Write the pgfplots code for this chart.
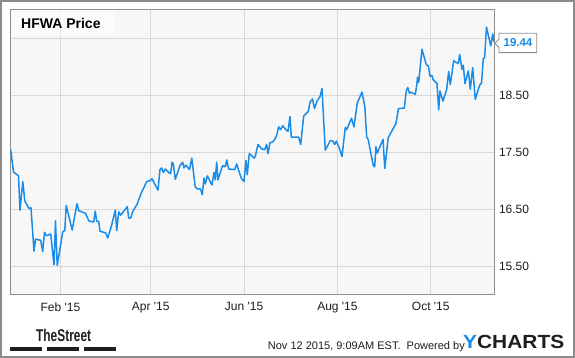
\documentclass[border=0pt]{standalone}
\usepackage{pgfplots}
\pgfplotsset{compat=1.18}
\usepackage{fontspec}
\setmainfont{Liberation Sans}
\usepackage{graphicx}
\definecolor{yblue}{RGB}{26,140,232}
\definecolor{gridc}{RGB}{216,216,216}
\definecolor{framec}{RGB}{140,140,140}
\definecolor{bgc}{RGB}{247,247,247}
\definecolor{txt}{RGB}{30,30,30}

\pgfplotstableread{
d v
-1.55 17.55
0.28 17.16
3.55 17.09
4.53 16.49
6.36 16.99
7.67 16.65
10.41 16.52
11.72 16.53
13.68 15.77
14.66 15.98
18.06 15.96
19.37 15.76
20.54 16.10
21.85 16.04
24.60 16.07
26.75 15.53
27.73 16.30
28.85 15.52
32.51 16.11
33.81 16.13
34.73 16.57
38.65 16.14
41.79 16.60
42.96 16.48
47.47 16.43
49.50 16.30
52.70 16.28
53.75 16.47
54.66 16.29
55.97 16.29
56.82 16.12
60.54 16.09
61.85 16.00
64.20 16.20
66.82 16.49
67.73 16.13
69.04 16.46
70.35 16.40
74.66 16.55
75.58 16.35
76.88 16.35
78.19 16.46
81.20 16.60
83.81 16.79
87.34 16.99
89.96 17.01
90.81 17.04
94.73 16.84
96.03 17.20
97.15 17.23
98.19 17.15
99.50 17.21
102.11 17.14
103.03 17.13
103.88 17.33
104.73 17.30
106.04 17.03
109.11 17.27
110.87 17.33
111.72 17.23
112.90 17.28
115.32 17.20
116.82 17.40
119.04 16.90
120.41 16.86
122.51 16.86
123.68 16.76
124.79 17.05
125.64 16.95
126.95 17.09
128.26 17.02
130.02 16.93
131.33 17.15
132.18 17.02
133.09 17.33
133.94 17.02
135.71 17.17
137.02 17.27
138.71 17.25
139.63 17.37
140.94 17.21
144.86 17.20
146.17 17.30
147.86 17.15
149.17 17.05
150.94 16.99
152.24 17.36
153.09 17.11
154.40 17.48
156.17 17.44
157.47 17.40
158.32 17.43
160.09 17.64
162.70 17.56
164.47 17.55
165.77 17.64
166.62 17.48
167.93 17.67
169.24 17.68
170.55 17.71
172.31 17.80
173.62 17.95
174.92 17.90
176.23 17.97
178.39 17.90
179.70 17.87
181.00 18.13
181.85 17.77
184.92 17.77
186.69 17.77
188.00 17.64
189.96 18.14
192.96 18.22
194.07 18.38
195.71 18.44
197.02 18.27
198.65 18.40
200.61 18.48
201.92 18.62
204.07 17.54
207.34 17.71
209.11 17.70
210.22 17.64
211.26 17.70
213.22 17.58
214.99 17.43
217.15 17.94
218.06 17.90
221.20 18.10
222.83 17.95
224.99 18.37
228.06 18.56
229.89 18.31
231.13 17.77
232.11 17.73
235.45 17.27
236.36 17.25
237.21 17.60
238.06 17.49
241.79 17.73
242.96 17.22
245.19 17.76
250.28 18.01
251.92 18.27
255.71 18.28
257.02 18.58
258.00 18.64
259.11 18.54
259.89 18.56
262.90 18.52
263.88 18.69
264.34 18.82
265.12 18.73
267.28 19.31
270.09 19.04
271.40 19.02
272.51 18.84
273.81 18.85
274.47 18.78
277.08 18.71
278.19 18.25
279.04 18.58
281.00 18.40
283.42 18.61
284.73 18.92
285.77 18.69
288.00 19.11
289.04 19.09
291.00 19.06
291.92 19.22
293.42 18.96
294.27 19.03
295.38 18.71
297.54 18.93
298.85 18.61
300.41 18.99
302.11 18.43
304.21 18.62
305.51 18.71
306.17 18.71
307.34 19.14
308.26 19.17
309.43 19.70
312.24 19.37
313.55 19.58
314.34 19.44
}\pricedata

\begin{document}
\begin{tikzpicture}[x=1pt,y=1pt]
\useasboundingbox (0,0) rectangle (575,358);
\fill[white] (0,0) rectangle (575,358);
\begin{axis}[
  at={(10pt,63pt)}, anchor=south west,
  scale only axis, width=484pt, height=285pt,
  xmin=-2, xmax=314.35, ymin=15, ymax=20,
  axis background/.style={fill=bgc},
  axis line style={framec, line width=1pt},
  xtick={31,90,151,212,273},
  xticklabels={Feb \textquotesingle 15,Apr \textquotesingle 15,Jun \textquotesingle 15,Aug \textquotesingle 15,Oct \textquotesingle 15},
  ytick={15.5,16.5,17.5,18.5,19.5},
  yticklabels={15.50,16.50,17.50,18.50,{}},
  ytick pos=right, yticklabel pos=right,
  major tick length=0pt,
  grid=major,
  major grid style={gridc, line width=1pt},
  tick label style={font=\fontsize{12}{14}\selectfont, text=txt},
  yticklabel style={anchor=west, xshift=1.5pt},
  xticklabel style={yshift=-4pt},
]
\addplot[yblue, line width=1.5pt, line join=round, no marks] table[x=d, y=v] {\pricedata};
\end{axis}
% title box
\fill[white, opacity=0.5] (10.5,347.5) rectangle (114,321.5);
\node[anchor=west, inner sep=0, font=\bfseries\fontsize{14}{16}\selectfont, text=black] at (21,334) {HFWA Price};
% last value label
\filldraw[fill=white, draw=framec, line width=0.9pt] (495,314.7) -- (499,319) -- (499,324.7) -- (536.7,324.7) -- (536.7,305.3) -- (499,305.3) -- (499,310.4) -- cycle;
\node[inner sep=0, font=\bfseries\fontsize{11.5}{13}\selectfont, text=yblue] at (518,315) {19.44};
% footer
\node[anchor=base west, inner sep=0, font=\fontsize{11}{13}\selectfont, text=txt] at (267.7,8) {Nov 12 2015, 9:09AM EST.\ \ Powered by};
\node[anchor=base west, inner sep=0, font=\bfseries\fontsize{19}{21}\selectfont, text=txt] at (463,9.7) {\scalebox{1.1}[1]{\textcolor{yblue}{Y}CHARTS}};
\node[anchor=base west, inner sep=0, font=\bfseries\fontsize{17}{19}\selectfont, text=txt] at (36,16) {\scalebox{0.7}[1]{TheStreet}};
\fill[txt] (10.3,10.7) rectangle (42.2,7.3);
\fill[txt] (47,10.7) rectangle (78.8,7.3);
\fill[txt] (83.6,10.7) rectangle (115.9,7.3);
% outer border
\draw[framec, line width=1.5pt] (1,1) rectangle (574,357);
\end{tikzpicture}
\end{document}
